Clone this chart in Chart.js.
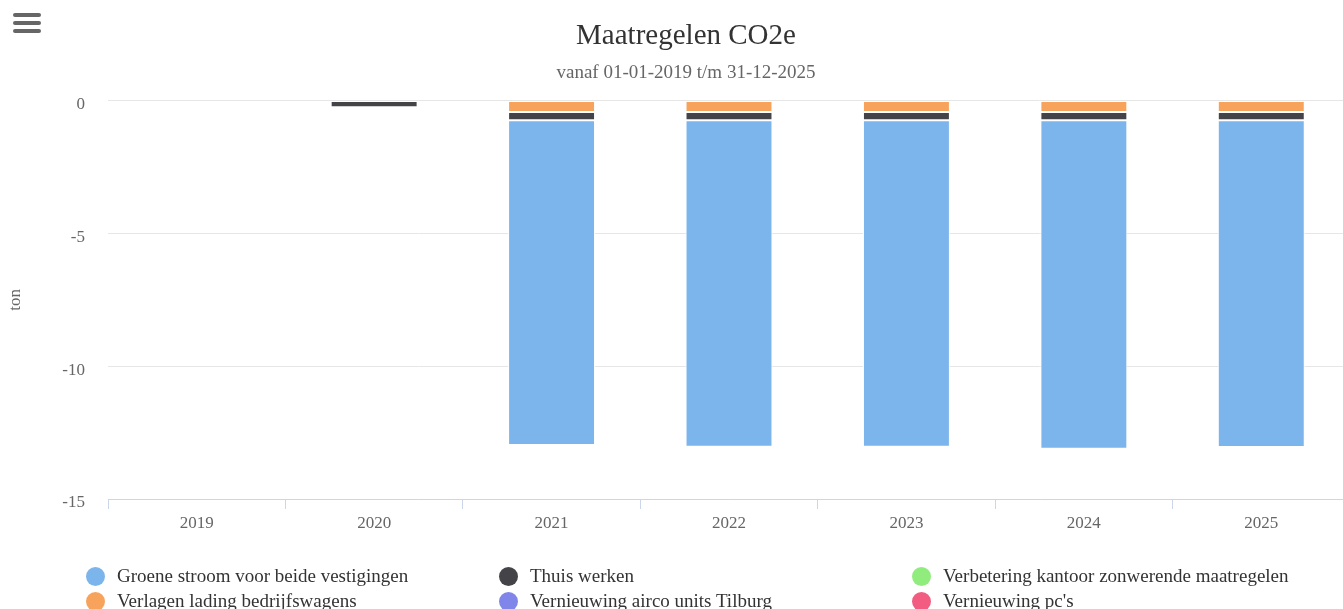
<!DOCTYPE html>
<html lang="nl">
<head>
<meta charset="utf-8">
<title>Maatregelen CO2e</title>
<script src="https://cdn.jsdelivr.net/npm/chart.js@4/dist/chart.umd.min.js"></script>
<style>
  html, body { margin: 0; padding: 0; background: #fff; overflow: hidden; }
  #wrap { position: relative; width: 1343px; height: 609px; overflow: hidden; }
  #chart { position: absolute; left: 0; top: 0; }
  #menu { position: absolute; left: 13px; top: 13px; width: 28px; height: 22px; }
  #menu span { display: block; height: 4px; border-radius: 2px; background: #666; margin-bottom: 4px; }
  #legend { position: absolute; left: 0; top: 564px; width: 1343px;
            font-family: "Liberation Serif", "DejaVu Serif", serif; font-size: 19px; color: #333; }
  .item { position: absolute; white-space: nowrap; line-height: 24px; height: 24px; }
  .dot { position: absolute; left: 0; top: 3px; width: 19px; height: 19px; border-radius: 50%; }
  .lbl { position: absolute; left: 31px; top: 0; }
</style>
</head>
<body>
<div id="wrap">
  <canvas id="chart" width="1372" height="609"></canvas>
  <div id="menu"><span></span><span></span><span></span></div>
  <div id="legend"></div>
</div>
<script>
// Jaren op de x-as
const years = ['2019', '2020', '2021', '2022', '2023', '2024', '2025'];

// Reductie per maatregel, in ton CO2e (negatief = besparing)
const groeneStroom      = [0, 0, -12.23, -12.29, -12.29, -12.37, -12.30];
const thuisWerken       = [0, -0.25, -0.31, -0.31, -0.31, -0.31, -0.31];
const zonwering         = [0, 0, 0, 0, 0, 0, 0];
const ladingWagens      = [0, 0, -0.43, -0.43, -0.43, -0.43, -0.43];
const aircoTilburg      = [0, 0, 0, 0, 0, 0, 0];
const vernieuwingPcs    = [0, 0, 0, 0, 0, 0, 0];

// Waarden langs de y-as
const yTicks = [0, -5, -10, -15];

const seriesNames = [
  'Groene stroom voor beide vestigingen',
  'Thuis werken',
  'Verbetering kantoor zonwerende maatregelen',
  'Verlagen lading bedrijfswagens',
  'Vernieuwing airco units Tilburg',
  "Vernieuwing pc's"
];
const seriesData = [groeneStroom, thuisWerken, zonwering, ladingWagens, aircoTilburg, vernieuwingPcs];
const seriesColors = ['#7cb5ec', '#434348', '#90ed7d', '#f7a35c', '#8085e9', '#f15c80'];
// stapelvolgorde: lager = dichter bij de nullijn
const stackOrder = [5, 4, 3, 0, 2, 1];

const serif = '"Liberation Serif", "DejaVu Serif", serif';

const datasets = seriesNames.map((name, i) => ({
  label: name,
  data: seriesData[i].map(v => (v === 0 ? null : v)),
  backgroundColor: seriesColors[i],
  borderColor: '#ffffff',
  borderWidth: 1,
  borderSkipped: false,
  order: stackOrder[i],
  barPercentage: 0.49,
  categoryPercentage: 1.0
}));

// Titel en ondertitel centreren over de volle canvasbreedte
const fullWidthTitles = {
  id: 'fullWidthTitles',
  afterLayout(chart) {
    chart.boxes.forEach(b => {
      if (b.options && typeof b.options.text === 'string') {
        b.left = 0;
        b.right = chart.width;
        b.width = chart.width;
      }
    });
  }
};

const chart = new Chart(document.getElementById('chart'), {
  type: 'bar',
  data: { labels: years, datasets },
  plugins: [fullWidthTitles],
  options: {
    responsive: false,
    animation: false,
    layout: { padding: { left: 0, right: 22, top: 0, bottom: 78 } },
    plugins: {
      legend: { display: false },
      tooltip: { enabled: false },
      title: {
        display: true,
        text: 'Maatregelen CO2e',
        color: '#333333',
        font: { family: serif, size: 29, weight: 'normal' },
        padding: { top: 19, bottom: 8 }
      },
      subtitle: {
        display: true,
        text: 'vanaf 01-01-2019 t/m 31-12-2025',
        color: '#666666',
        font: { family: serif, size: 19, weight: 'normal' },
        padding: { top: 0, bottom: 16 }
      }
    },
    scales: {
      x: {
        stacked: true,
        offset: true,
        grid: {
          offset: true,
          drawOnChartArea: false,
          drawTicks: true,
          tickLength: 10,
          color: '#ccd6eb',
          lineWidth: 1
        },
        border: { display: true, color: '#ccd6eb', width: 1 },
        ticks: { color: '#666666', font: { family: serif, size: 17 }, padding: 4 },
        afterFit(scale) { scale.height = 32; }
      },
      y: {
        stacked: true,
        min: -15,
        max: 0,
        afterBuildTicks(scale) { scale.ticks = yTicks.map(v => ({ value: v })); },
        grid: { color: '#e6e6e6', lineWidth: 1, drawTicks: false },
        border: { display: false },
        ticks: { color: '#666666', font: { family: serif, size: 17 }, padding: 23, labelOffset: 4 },
        title: {
          display: true,
          text: 'ton',
          color: '#666666',
          font: { family: serif, size: 17 },
          padding: { top: 5, bottom: 0 }
        },
        afterFit(scale) { scale.width = 108; }
      }
    }
  }
});

// Legenda in drie vaste kolommen
const legend = document.getElementById('legend');
seriesNames.forEach((name, i) => {
  const col = i % 3, row = Math.floor(i / 3);
  const item = document.createElement('div');
  item.className = 'item';
  item.style.left = (86 + col * 413) + 'px';
  item.style.top = (row * 25) + 'px';
  const dot = document.createElement('span');
  dot.className = 'dot';
  dot.style.background = seriesColors[i];
  const lbl = document.createElement('span');
  lbl.className = 'lbl';
  lbl.textContent = name;
  item.appendChild(dot);
  item.appendChild(lbl);
  legend.appendChild(item);
});
</script>
</body>
</html>
